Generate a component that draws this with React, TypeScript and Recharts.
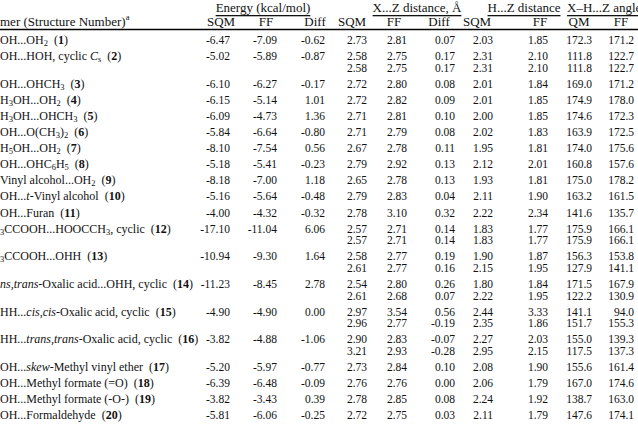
import { ScatterChart, Scatter, XAxis, YAxis, ReferenceLine } from 'recharts';

// visible part of each dimer label: _x = subscript, ^x = superscript, ~..~ = italic
const dimerLabels = [
  'OH...OH_2',
  'OH...HOH, cyclic ~C~_s',
  'OH...OHCH_3',
  'H_3OH...OH_2',
  'H_3OH...OHCH_3',
  'OH...O(CH_3)_2',
  'H_5OH...OH_2',
  'OH...OHC_6H_5',
  'Vinyl alcohol...OH_2',
  'OH...~t~-Vinyl alcohol',
  'OH...Furan',
  '_3CCOOH...HOOCCH_3, cyclic',
  '_3CCOOH...OHH',
  '~ns,trans~-Oxalic acid...OHH, cyclic',
  'HH...~cis,cis~-Oxalic acid, cyclic',
  'HH...~trans,trans~-Oxalic acid, cyclic',
  'OH...~skew~-Methyl vinyl ether',
  'OH...Methyl formate (=O)',
  'OH...Methyl formate (-O-)',
  'OH...Formaldehyde',
];
const structureNumbers = [1, 2, 3, 4, 5, 6, 7, 8, 9, 10, 11, 12, 13, 14, 15, 16, 17, 18, 19, 20];

const energySQM = [-6.47, -5.02, -6.1, -6.15, -6.09, -5.84, -8.1, -5.18, -8.18, -5.16, -4.0, -17.1, -10.94, -11.23, -4.9, -3.82, -5.2, -6.39, -3.82, -5.81];
const energyFF = [-7.09, -5.89, -6.27, -5.14, -4.73, -6.64, -7.54, -5.41, -7.0, -5.64, -4.32, -11.04, -9.3, -8.45, -4.9, -4.88, -5.97, -6.48, -3.43, -6.06];
const energyDiff = [-0.62, -0.87, -0.17, 1.01, 1.36, -0.8, 0.56, -0.23, 1.18, -0.48, -0.32, 6.06, 1.64, 2.78, 0.0, -1.06, -0.77, -0.09, 0.39, -0.25];

const xzSQM = [[2.73], [2.58, 2.58], [2.72], [2.72], [2.71], [2.71], [2.67], [2.79], [2.65], [2.79], [2.78], [2.57, 2.57], [2.58, 2.61], [2.54, 2.61], [2.97, 2.96], [2.9, 3.21], [2.73], [2.76], [2.78], [2.72]];
const xzFF = [[2.81], [2.75, 2.75], [2.8], [2.82], [2.81], [2.79], [2.78], [2.92], [2.78], [2.83], [3.1], [2.71, 2.71], [2.77, 2.77], [2.8, 2.68], [3.54, 2.77], [2.83, 2.93], [2.84], [2.76], [2.85], [2.75]];
const xzDiff = [[0.07], [0.17, 0.17], [0.08], [0.09], [0.1], [0.08], [0.11], [0.13], [0.13], [0.04], [0.32], [0.14, 0.14], [0.19, 0.16], [0.26, 0.07], [0.56, -0.19], [-0.07, -0.28], [0.1], [0.0], [0.08], [0.03]];
const hzSQM = [[2.03], [2.31, 2.31], [2.01], [2.01], [2.0], [2.02], [1.95], [2.12], [1.93], [2.11], [2.22], [1.83, 1.83], [1.9, 2.15], [1.8, 2.22], [2.44, 2.35], [2.27, 2.95], [2.08], [2.06], [2.24], [2.11]];
const hzFF = [[1.85], [2.1, 2.1], [1.84], [1.85], [1.85], [1.83], [1.81], [2.01], [1.81], [1.9], [2.34], [1.77, 1.77], [1.87, 1.95], [1.84, 1.95], [3.33, 1.86], [2.03, 2.15], [1.9], [1.79], [1.92], [1.79]];
const angleQM = [[172.3], [111.8, 111.8], [169.0], [174.9], [174.6], [163.9], [174.0], [160.8], [175.0], [163.2], [141.6], [175.9, 175.9], [156.3, 127.9], [171.5, 122.2], [141.1, 151.7], [155.0, 117.5], [155.6], [167.0], [138.7], [147.6]];
const angleFF = [[171.2], [122.7, 122.7], [171.2], [178.0], [172.3], [172.5], [175.6], [157.6], [178.2], [161.5], [135.7], [166.1, 166.1], [153.8, 141.1], [167.9, 130.9], [94.0, 155.3], [139.3, 137.3], [161.4], [174.6], [163.0], [174.1]];

const groupHeaders = ['Energy (kcal/mol)', 'X...Z distance, Å', 'H...Z distance', 'X–H...Z angle'];
const columnHeaders = ['SQM', 'FF', 'Diff', 'SQM', 'FF', 'Diff', 'SQM', 'FF', 'QM', 'FF'];

// layout (pixels across, row units down)
const W = 638;
const H = 433;
const PX_PER_ROW = 16.1;
const FIRST_ROW_PX = 40;
const SECOND_LINE = 0.72;
const toUnits = (px: number) => (px - FIRST_ROW_PX) / PX_PER_ROW;

const columns = [
  { values: energySQM, digits: 2, right: 230, head: 221 },
  { values: energyFF, digits: 2, right: 277, head: 266 },
  { values: energyDiff, digits: 2, right: 325, head: 315 },
  { values: xzSQM, digits: 2, right: 367, head: 352 },
  { values: xzFF, digits: 2, right: 407, head: 394 },
  { values: xzDiff, digits: 2, right: 455, head: 439 },
  { values: hzSQM, digits: 2, right: 493, head: 477 },
  { values: hzFF, digits: 2, right: 548, head: 540 },
  { values: angleQM, digits: 1, right: 592, head: 579 },
  { values: angleFF, digits: 1, right: 634, head: 621 },
];
const groupLayout = [
  { x: 263, anchor: 'middle' },
  { x: 417, anchor: 'middle' },
  { x: 524, anchor: 'middle' },
  { x: 567, anchor: 'start' },
];

const rowY: number[] = [];
{
  let y = 0;
  xzSQM.forEach((lines) => {
    rowY.push(y);
    y += 1 + (lines.length - 1) * SECOND_LINE;
  });
}

type Seg = { text: string; italic: boolean; shift?: 'sub' | 'sup' };
function parseRich(s: string): Seg[] {
  const out: Seg[] = [];
  let buf = '';
  let italic = false;
  const flush = () => {
    if (buf) out.push({ text: buf, italic });
    buf = '';
  };
  for (let i = 0; i < s.length; i++) {
    const c = s[i];
    if (c === '~') {
      flush();
      italic = !italic;
    } else if (c === '_' || c === '^') {
      flush();
      out.push({ text: s[i + 1], italic: false, shift: c === '_' ? 'sub' : 'sup' });
      i++;
    } else {
      buf += c;
    }
  }
  flush();
  return out;
}

const renderSegs = (s: string) =>
  parseRich(s).map((g, k) => (
    <tspan
      key={k}
      fontStyle={g.italic ? 'italic' : undefined}
      fontSize={g.shift ? 8.5 : undefined}
      baselineShift={g.shift === 'sub' ? '-3' : g.shift === 'sup' ? '4' : undefined}
    >
      {g.text}
    </tspan>
  ));

const labelCells = dimerLabels.map((label, i) => ({
  x: 0,
  y: rowY[i],
  text: label,
  num: structureNumbers[i],
}));

const numberCells = columns.flatMap((col) =>
  col.values.flatMap((v, i) =>
    (Array.isArray(v) ? v : [v]).map((n, j) => ({
      x: col.right,
      y: rowY[i] + j * SECOND_LINE,
      text: n.toFixed(col.digits),
    }))
  )
);

const headerCells = [
  ...groupHeaders.map((t, i) => ({
    x: groupLayout[i].x,
    y: toUnits(7),
    text: t,
    anchor: groupLayout[i].anchor,
    underline: true,
  })),
  { x: 0, y: toUnits(21), text: 'mer (Structure Number)^a', anchor: 'start', underline: false },
  ...columnHeaders.map((t, i) => ({
    x: columns[i].head,
    y: toUnits(21),
    text: t,
    anchor: 'middle',
    underline: false,
  })),
];

const FONT = '"Liberation Serif", "Times New Roman", serif';
const INK = '#111';

const LabelShape = (props: any) => {
  const { cx, cy, payload } = props;
  return (
    <text x={cx} y={cy} dominantBaseline="central" fontFamily={FONT} fontSize={12} fill={INK} style={{ whiteSpace: 'pre' }}>
      {renderSegs(payload.text)}
      <tspan>{'  ('}</tspan>
      <tspan fontWeight="bold">{payload.num}</tspan>
      <tspan>)</tspan>
    </text>
  );
};

const NumberShape = (props: any) => {
  const { cx, cy, payload } = props;
  return (
    <text x={cx} y={cy} dominantBaseline="central" textAnchor="end" fontFamily={FONT} fontSize={11.5} fill={INK}>
      {payload.text}
    </text>
  );
};

const HeaderShape = (props: any) => {
  const { cx, cy, payload } = props;
  return (
    <text
      x={cx}
      y={cy}
      dominantBaseline="central"
      textAnchor={payload.anchor}
      fontFamily={FONT}
      fontSize={13}
      fill={INK}
      textDecoration={payload.underline ? 'underline' : undefined}
    >
      {renderSegs(payload.text)}
    </text>
  );
};

const ruleY = toUnits(29.5);

export default function App() {
  return (
    <div style={{ position: 'absolute', left: 0, top: 0, background: '#fff' }}>
      <ScatterChart width={W} height={H} margin={{ top: 0, right: 0, bottom: 0, left: 0 }}>
        <XAxis type="number" dataKey="x" domain={[0, W]} allowDataOverflow hide />
        <YAxis
          type="number"
          dataKey="y"
          domain={[toUnits(0), toUnits(H)]}
          reversed
          allowDataOverflow
          hide
        />
        <ReferenceLine
          segment={[
            { x: 0, y: ruleY },
            { x: W, y: ruleY },
          ]}
          stroke="#000"
          strokeWidth={1.3}
        />
        <Scatter data={headerCells} shape={HeaderShape} isAnimationActive={false} />
        <Scatter data={labelCells} shape={LabelShape} isAnimationActive={false} />
        <Scatter data={numberCells} shape={NumberShape} isAnimationActive={false} />
      </ScatterChart>
    </div>
  );
}
